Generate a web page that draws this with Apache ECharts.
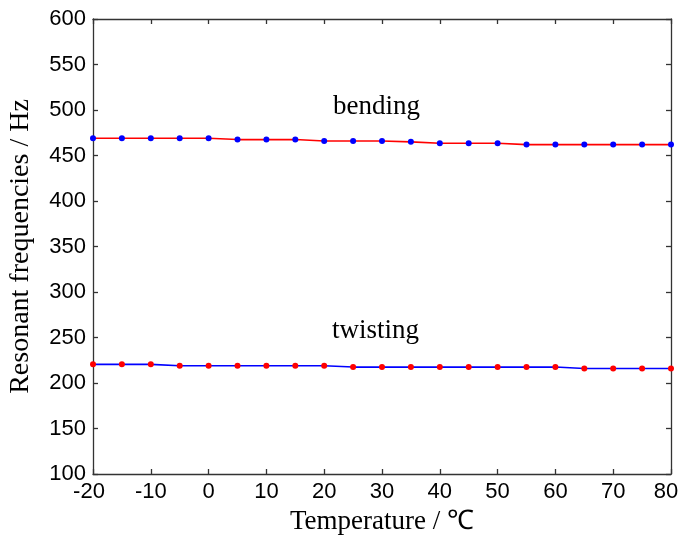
<!DOCTYPE html>
<html>
<head>
<meta charset="utf-8">
<script src="https://cdn.jsdelivr.net/npm/echarts@6/dist/echarts.min.js"></script>
<style>
  html, body { margin: 0; padding: 0; background: #fff; }
  #chart { width: 680px; height: 536px; }
</style>
</head>
<body>
<div id="chart"></div>
<script>
// Temperature sweep (°C)
const temperatures = [-20, -15, -10, -5, 0, 5, 10, 15, 20, 25, 30, 35, 40, 45, 50, 55, 60, 65, 70, 75, 80];
// Resonant frequency of the bending mode (Hz)
const bendingHz = [469, 469, 469, 469, 469, 467.5, 467.5, 467.5, 466, 466, 466, 465, 463.5, 463.5, 463.5, 462, 462, 462, 462, 462, 462];
// Resonant frequency of the twisting mode (Hz)
const twistingHz = [220.5, 220.5, 220.5, 219, 219, 219, 219, 219, 219, 217.5, 217.5, 217.5, 217.5, 217.5, 217.5, 217.5, 217.5, 216, 216, 216, 216];

const xMin = -20, xMax = 80, xStep = 10;
const yMin = 100, yMax = 600, yStep = 50;

const pairs = (ys) => temperatures.map((t, i) => [t, ys[i]]);

const chart = echarts.init(document.getElementById('chart'), null, { renderer: 'canvas' });

// Boxed frame: every axis line stays on the plot edge, ticks point inward
const axisLine = { show: true, onZero: false, lineStyle: { color: '#333', width: 1.3 } };
const tickIn = { show: true, inside: true, length: 5, lineStyle: { color: '#333', width: 1.3 } };
const tickFont = { color: '#000', fontFamily: 'Liberation Sans, Arial, sans-serif', fontSize: 22 };
const serif = '"Liberation Serif", "Times New Roman", serif';
const titleFont = { color: '#000', fontFamily: serif, fontSize: 27 };

chart.setOption({
  animation: false,
  backgroundColor: '#fff',
  // fixed plot rectangle; labels may reach the canvas edge
  grid: { left: 93, right: 9, top: 19, bottom: 62, containLabel: false, outerBoundsMode: 'none' },
  xAxis: [
    {
      type: 'value', min: xMin, max: xMax, interval: xStep, position: 'bottom',
      name: 'Temperature / ℃', nameLocation: 'middle', nameGap: 34, nameTextStyle: titleFont,
      axisLine, axisTick: tickIn, splitLine: { show: false },
      axisLabel: Object.assign({
        margin: 7,
        // end labels nudged left so the last one stays inside the canvas
        formatter: (v) => v === xMin ? '{first|' + v + '}' : v === xMax ? '{last|' + v + '}' : String(v),
        rich: {
          first: Object.assign({ padding: [0, 8, 0, 0] }, tickFont),
          last: Object.assign({ padding: [0, 10, 0, 0] }, tickFont)
        }
      }, tickFont)
    },
    {
      type: 'value', min: xMin, max: xMax, interval: xStep, position: 'top',
      axisLine, axisTick: tickIn, splitLine: { show: false }, axisLabel: { show: false }
    }
  ],
  yAxis: [
    {
      type: 'value', min: yMin, max: yMax, interval: yStep, position: 'left',
      name: 'Resonant frequencies / Hz', nameLocation: 'middle', nameGap: 58, nameRotate: 90,
      nameTextStyle: Object.assign({}, titleFont, { fontSize: 28 }),
      axisLine, axisTick: tickIn, splitLine: { show: false },
      axisLabel: Object.assign({ margin: 7 }, tickFont)
    },
    {
      type: 'value', min: yMin, max: yMax, interval: yStep, position: 'right',
      axisLine, axisTick: tickIn, splitLine: { show: false }, axisLabel: { show: false }
    }
  ],
  series: [
    {
      name: 'bending', type: 'line', xAxisIndex: 0, yAxisIndex: 0,
      data: pairs(bendingHz),
      lineStyle: { color: '#ff0000', width: 1.6 },
      symbol: 'circle', symbolSize: 6, showAllSymbol: true,
      itemStyle: { color: '#0000ff' },
      label: { show: false }
    },
    {
      name: 'twisting', type: 'line', xAxisIndex: 0, yAxisIndex: 0,
      data: pairs(twistingHz),
      lineStyle: { color: '#0000ff', width: 1.6 },
      symbol: 'circle', symbolSize: 6, showAllSymbol: true,
      itemStyle: { color: '#ff0000' },
      label: { show: false }
    }
  ],
  graphic: [
    {
      type: 'text', left: 333, top: 93,
      style: { text: 'bending', fill: '#000', font: '27px ' + serif }
    },
    {
      type: 'text', left: 332, top: 317,
      style: { text: 'twisting', fill: '#000', font: '27px ' + serif }
    }
  ]
});
</script>
</body>
</html>
